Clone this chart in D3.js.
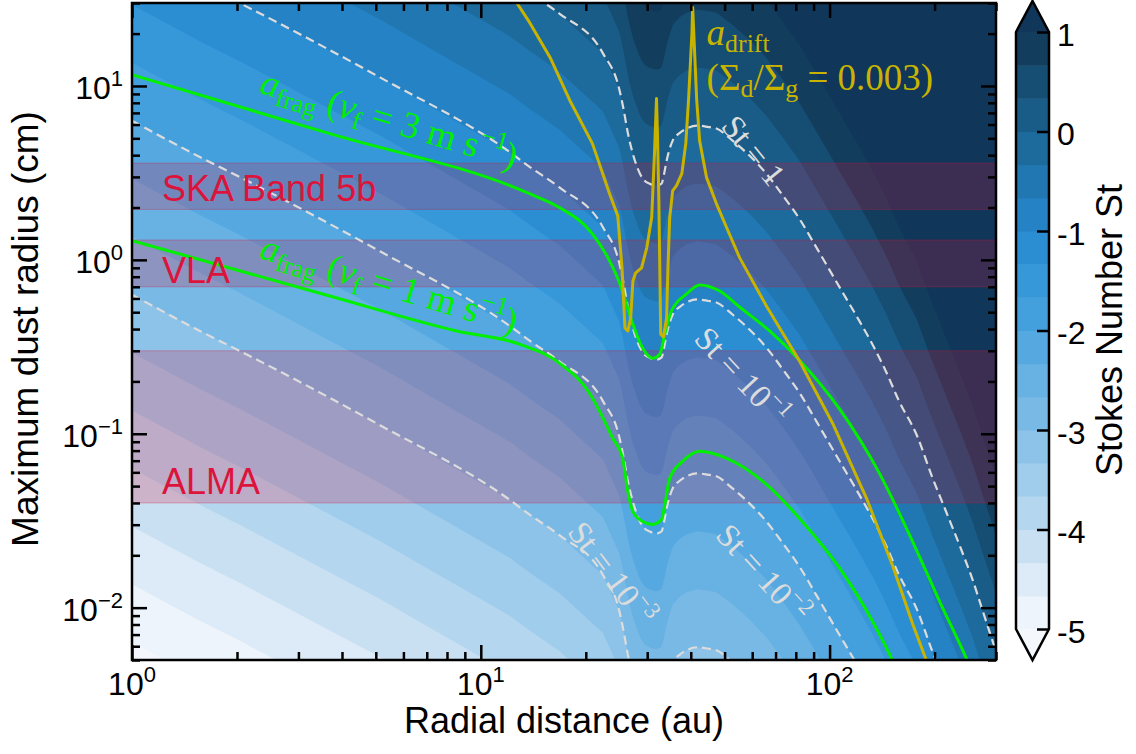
<!DOCTYPE html>
<html>
<head>
<meta charset="utf-8">
<script src="https://cdn.jsdelivr.net/npm/d3@7"></script>
<style>
  body { margin: 0; background: #fff; }
  svg text { font-family: "Liberation Sans", Arial, Helvetica, sans-serif; }
  svg .serif { font-family: "Liberation Serif", "Times New Roman", serif; white-space: pre; }
</style>
</head>
<body>
<svg id="chart" width="1136" height="754"></svg>
<script>
// --- data -----------------------------------------------------------------
// St = 1 contour (radius in au, grain size in cm); the other St levels are decades below it
const st1R = [1, 1.57, 2.04, 5.14, 12.1, 13.8, 16.8, 22.4, 25.0, 25.7, 26.4, 27.2, 28.6, 29.5, 30.5, 31.9, 33.0, 33.5, 34.1, 35.5, 37.2, 38.9, 41.6, 44.7, 47.4, 52.7, 58.9, 65.9, 73.5, 82.0, 91.2, 107, 120, 133, 145, 158, 178, 197, 216, 240, 257, 275, 300];
const st1A = [631, 389, 299, 112, 41.7, 34.3, 26.1, 15.4, 9.42, 7.24, 5.37, 4.17, 3.13, 2.85, 2.74, 2.67, 2.75, 3.09, 3.72, 4.85, 5.37, 5.69, 5.92, 5.82, 5.69, 4.85, 3.98, 3.13, 2.34, 1.72, 1.20, 0.692, 0.468, 0.324, 0.229, 0.155, 0.0977, 0.0562, 0.0355, 0.0209, 0.0145, 0.00955, 0.0056];

// a_frag for v_f = 3 m/s
const frag3R = [1, 3.69, 13.8, 16.8, 20.9, 23.4, 25.0, 27.1, 29.1, 31.1, 32.6, 33.7, 35.2, 38.9, 42.4, 48.4, 55.2, 67.3, 82.0, 107, 139, 173, 207, 247, 260];
const frag3A = [11.6, 5.32, 2.40, 2.00, 1.41, 0.987, 0.737, 0.445, 0.311, 0.272, 0.287, 0.374, 0.508, 0.637, 0.718, 0.662, 0.536, 0.390, 0.265, 0.138, 0.0592, 0.0240, 0.0108, 0.00508, 0.0040];

// a_frag for v_f = 1 m/s
const frag1R = [1, 3.69, 8.53, 12.9, 16.8, 20.5, 21.9, 23.9, 25.5, 26.4, 27.3, 29.1, 31.1, 33.0, 33.7, 34.8, 37.9, 42.4, 50.7, 65.9, 82.0, 107, 133, 152, 157];
const frag1A = [1.29, 0.620, 0.390, 0.328, 0.255, 0.171, 0.135, 0.0942, 0.0722, 0.0466, 0.0357, 0.0313, 0.0301, 0.0322, 0.0392, 0.0554, 0.0694, 0.0793, 0.0722, 0.0512, 0.0326, 0.0168, 0.0083, 0.00489, 0.0042];

// a_drift for Sigma_d/Sigma_g = 0.003
const driftR = [11.7, 12.7, 13.8, 15.8, 18.0, 20.9, 23.4, 24.7, 25.4, 25.9, 26.4, 26.9, 27.3, 27.8, 28.9, 29.9, 30.9, 31.5, 31.9, 32.1, 32.4, 32.6, 32.8, 33.4, 34.1, 34.4, 34.8, 35.5, 36.4, 37.7, 38.7, 39.4, 40.3, 40.5, 40.8, 41.6, 42.4, 44.4, 47.4, 50.7, 55.2, 65.9, 82.0, 102, 128, 152, 173, 190, 196];
const driftA = [39.0, 29.9, 23.2, 14.6, 8.25, 4.66, 2.40, 1.79, 0.899, 0.406, 0.390, 0.463, 0.757, 0.842, 0.899, 1.17, 1.75, 4.25, 8.47, 5.32, 2.19, 0.899, 0.374, 0.360, 0.463, 0.899, 1.75, 2.50, 2.67, 3.13, 4.66, 8.25, 20.1, 28.3, 20.1, 8.25, 4.85, 2.97, 2.10, 1.53, 1.03, 0.543, 0.262, 0.115, 0.0419, 0.0172, 0.00809, 0.00489, 0.0040];

// observing bands (cm)
const bandNames = ["SKA Band 5b", "VLA", "ALMA"];
const bandLo = [1.95, 0.7, 0.04];
const bandHi = [3.6, 1.3, 0.3];

const stLevels = [1, 0.1, 0.01, 0.001];
const stLabels = ["1", "10|−1", "10|−2", "10|−3"];
const cbarTicks = [-5, -4, -3, -2, -1, 0, 1];
const xMajor = [1, 10, 100];
const xMinor = [2, 3, 4, 5, 6, 7, 8, 9, 20, 30, 40, 50, 60, 70, 80, 90, 200, 300];
const yMajor = [0.01, 0.1, 1, 10];
const yMinor = [0.005, 0.006, 0.007, 0.008, 0.009, 0.02, 0.03, 0.04, 0.05, 0.06, 0.07, 0.08, 0.09,
  0.2, 0.3, 0.4, 0.5, 0.6, 0.7, 0.8, 0.9, 2, 3, 4, 5, 6, 7, 8, 9, 20, 30];

// --- colours -----------------------------------------------------------------
const binColors = ["#edf4fb", "#dcebf7", "#c9e0f3", "#b5d6ef", "#a1cdec", "#8dc3e9", "#79b9e6", "#67b1e3",
  "#55a8e0", "#44a0dd", "#3697d9", "#2b8dd2", "#2582c5", "#2177b1", "#1d6a9d", "#1a5c88", "#164d72", "#123d5c"];
const underColor = "#f4f8fc", overColor = "#10365a";
const green = "#00f000", yellow = "#c8b400", dashCol = "#dcdcdc";

// --- layout ------------------------------------------------------------------
const M = { left: 132, right: 996, top: 3, bottom: 660 };
const svg = d3.select("#chart");
const x = d3.scaleLog().domain([1, 300]).range([M.left, M.right]);
const y = d3.scaleLog().domain([0.005, 30]).range([M.bottom, M.top]);

svg.append("defs").append("clipPath").attr("id", "clip")
  .append("rect").attr("x", M.left).attr("y", M.top)
  .attr("width", M.right - M.left).attr("height", M.bottom - M.top);

const plot = svg.append("g").attr("clip-path", "url(#clip)");

// log10 of the St = 1 grain size as a function of log10 r
const logSt1 = d3.scaleLinear()
  .domain(st1R.map(Math.log10))
  .range(st1A.map(Math.log10))
  .clamp(true);

// filled Stokes number field: log St = log a - log a(St=1)
const nx = 432, ny = 330;
const sx = (M.right - M.left) / nx, sy = (M.bottom - M.top) / ny;
const values = new Float64Array(nx * ny);
for (let j = 0; j < ny; j++) {
  const la = Math.log10(y.invert(M.top + (j + 0.5) * sy));
  for (let i = 0; i < nx; i++) {
    const lr = Math.log10(x.invert(M.left + (i + 0.5) * sx));
    values[j * nx + i] = la - logSt1(lr);
  }
}
const thresholds = d3.range(19).map(k => -5 + k / 3);
const contours = d3.contours().size([nx, ny]).thresholds(thresholds)(values);

plot.append("rect").attr("x", M.left).attr("y", M.top)
  .attr("width", M.right - M.left).attr("height", M.bottom - M.top)
  .attr("fill", underColor);

plot.append("g")
  .attr("transform", `translate(${M.left},${M.top}) scale(${sx},${sy})`)
  .selectAll("path")
  .data(contours)
  .join("path")
  .attr("d", d3.geoPath())
  .attr("fill", (d, k) => k < binColors.length ? binColors[k] : overColor);

// observing bands
bandNames.forEach((name, i) => {
  plot.append("rect")
    .attr("x", M.left).attr("width", M.right - M.left)
    .attr("y", y(bandHi[i])).attr("height", y(bandLo[i]) - y(bandHi[i]))
    .attr("fill", "crimson").attr("fill-opacity", 0.22)
    .attr("stroke", "crimson").attr("stroke-opacity", 0.3).attr("stroke-width", 1);
});

// dashed St contours
const toPts = (R, A, f = 1) => R.map((r, i) => ({ r: r, a: A[i] * f }));
const smooth = d3.line().x(d => x(d.r)).y(d => y(d.a)).curve(d3.curveMonotoneX);
const straight = d3.line().x(d => x(d.r)).y(d => y(d.a));

stLevels.forEach(s => {
  plot.append("path")
    .attr("d", smooth(toPts(st1R, st1A, s)))
    .attr("fill", "none").attr("stroke", dashCol)
    .attr("stroke-width", 2.2).attr("stroke-dasharray", "9,5");
});

// fragmentation limits
[[frag3R, frag3A], [frag1R, frag1A]].forEach(([R, A]) => {
  plot.append("path")
    .attr("d", smooth(toPts(R, A)))
    .attr("fill", "none").attr("stroke", green).attr("stroke-width", 3);
});

// drift limit
plot.append("path")
  .attr("d", straight(toPts(driftR, driftA)))
  .attr("fill", "none").attr("stroke", yellow).attr("stroke-width", 3)
  .attr("stroke-linejoin", "round");

// --- annotations -----------------------------------------------------------
function richText(t, parts, size) {
  let shift = 0;
  parts.forEach(p => {
    const target = p.sub ? 0.2 * size : p.sup ? -0.42 * size : 0;
    t.append("tspan")
      .attr("dy", target - shift)
      .attr("font-size", p.sub || p.sup ? size * 0.7 : size)
      .attr("font-style", p.it ? "italic" : null)
      .text(p.t);
    shift = target;
  });
  return t;
}

bandNames.forEach((name, i) => {
  svg.append("text")
    .attr("x", M.left + 30)
    .attr("y", y([2.19, 0.737, 0.0448][i]))
    .attr("font-size", 36).attr("fill", "crimson")
    .text(name);
});

// St labels
const stPos = [[60.5, 4.25, 51], [56, 0.214, 47], [64.3, 0.0157, 48], [23.7, 0.0157, 53]];
stLabels.forEach((lab, i) => {
  const [r, a, ang] = stPos[i];
  const [base, sup] = lab.split("|");
  const parts = [{ t: "St = " + base }];
  if (sup) parts.push({ t: sup, sup: 1 });
  const t = svg.append("text").attr("class", "serif")
    .attr("transform", `translate(${x(r)},${y(a)}) rotate(${ang})`)
    .attr("y", 11).attr("text-anchor", "middle").attr("fill", dashCol);
  richText(t, parts, 33);
});

// a_frag labels
[[9.17, "3"], [1.03, "1"]].forEach(([a, v]) => {
  const t = svg.append("text").attr("class", "serif")
    .attr("transform", `translate(${x(2.30)},${y(a)}) rotate(16.7)`)
    .attr("fill", green);
  richText(t, [{ t: "a", it: 1 }, { t: "frag", sub: 1 }, { t: " (" }, { t: "v", it: 1 }, { t: "f", sub: 1 },
    { t: " = " + v + " m s" }, { t: "−1", sup: 1 }, { t: ")" }], 37);
});

// a_drift label
richText(svg.append("text").attr("class", "serif")
  .attr("x", x(44.4)).attr("y", y(17.2)).attr("fill", yellow),
  [{ t: "a", it: 1 }, { t: "drift", sub: 1 }], 37);
richText(svg.append("text").attr("class", "serif")
  .attr("x", x(44.4)).attr("y", y(9.5)).attr("fill", yellow),
  [{ t: "(Σ" }, { t: "d", sub: 1 }, { t: "/Σ" }, { t: "g", sub: 1 }, { t: " = 0.003)" }], 37);

// --- axes -------------------------------------------------------------------
function ticks(axis, tr, vals, size) {
  svg.append("g").attr("transform", tr)
    .call(axis.tickValues(vals).tickSizeInner(-size).tickSizeOuter(0).tickFormat(""))
    .call(g => g.select(".domain").remove())
    .call(g => g.selectAll("line").attr("stroke", "#000").attr("stroke-width", 2.5));
}
ticks(d3.axisBottom(x), `translate(0,${M.bottom})`, xMajor, 15);
ticks(d3.axisBottom(x), `translate(0,${M.bottom})`, xMinor, 8);
ticks(d3.axisTop(x), `translate(0,${M.top})`, xMajor, 15);
ticks(d3.axisTop(x), `translate(0,${M.top})`, xMinor, 8);
ticks(d3.axisLeft(y), `translate(${M.left},0)`, yMajor, 15);
ticks(d3.axisLeft(y), `translate(${M.left},0)`, yMinor, 8);
ticks(d3.axisRight(y), `translate(${M.right},0)`, yMajor, 15);
ticks(d3.axisRight(y), `translate(${M.right},0)`, yMinor, 8);

svg.append("rect").attr("x", M.left).attr("y", M.top)
  .attr("width", M.right - M.left).attr("height", M.bottom - M.top)
  .attr("fill", "none").attr("stroke", "#000").attr("stroke-width", 2.5);

function expLabel(t, e) {
  t.append("tspan").text("10");
  t.append("tspan").attr("dy", -13).attr("font-size", 22).text(e < 0 ? "−" + (-e) : String(e));
}
xMajor.forEach(v => {
  expLabel(svg.append("text").attr("x", x(v)).attr("y", 695)
    .attr("text-anchor", "middle").attr("font-size", 32), Math.round(Math.log10(v)));
});
yMajor.forEach(v => {
  expLabel(svg.append("text").attr("x", M.left - 9).attr("y", y(v) + 13)
    .attr("text-anchor", "end").attr("font-size", 32), Math.round(Math.log10(v)));
});

svg.append("text").attr("x", (M.left + M.right) / 2).attr("y", 733)
  .attr("text-anchor", "middle").attr("font-size", 36)
  .text("Radial distance (au)");
svg.append("text").attr("transform", "translate(38,329) rotate(-90)")
  .attr("text-anchor", "middle").attr("font-size", 37)
  .text("Maximum dust radius (cm)");

// --- colour bar ---------------------------------------------------------------
const cb = d3.scaleLinear().domain([-5, 1]).range([629, 32]);
const cbX0 = 1016, cbX1 = 1049, cbMid = (cbX0 + cbX1) / 2;
const cbar = svg.append("g");
cbar.selectAll("rect").data(binColors).join("rect")
  .attr("x", cbX0).attr("width", cbX1 - cbX0)
  .attr("y", (c, k) => cb(-5 + (k + 1) / 3))
  .attr("height", (c, k) => cb(-5 + k / 3) - cb(-5 + (k + 1) / 3) + 0.5)
  .attr("fill", c => c);
cbar.append("path").attr("d", `M${cbX0},${cb(1)}L${cbMid},1L${cbX1},${cb(1)}Z`).attr("fill", overColor);
cbar.append("path").attr("d", `M${cbX0},${cb(-5)}L${cbMid},660L${cbX1},${cb(-5)}Z`).attr("fill", underColor);
cbar.append("path")
  .attr("d", `M${cbX0},${cb(-5)}L${cbX0},${cb(1)}L${cbMid},1L${cbX1},${cb(1)}L${cbX1},${cb(-5)}L${cbMid},660Z`)
  .attr("fill", "none").attr("stroke", "#000").attr("stroke-width", 2.5).attr("stroke-linejoin", "miter");
cbar.append("g").attr("transform", `translate(${cbX1},0)`)
  .call(d3.axisRight(cb).tickValues(cbarTicks).tickSizeInner(-12).tickSizeOuter(0).tickPadding(8)
    .tickFormat(d => String(d)))
  .call(g => g.select(".domain").remove())
  .call(g => g.selectAll("line").attr("stroke", "#000").attr("stroke-width", 2.5))
  .call(g => g.selectAll("text").attr("font-size", 32).attr("dy", "0.42em")
    .attr("font-family", "Liberation Sans, Arial, sans-serif").attr("fill", "#000"));
svg.append("text").attr("transform", "translate(1122,330) rotate(-90)")
  .attr("text-anchor", "middle").attr("font-size", 36)
  .text("Stokes Number St");
</script>
</body>
</html>
